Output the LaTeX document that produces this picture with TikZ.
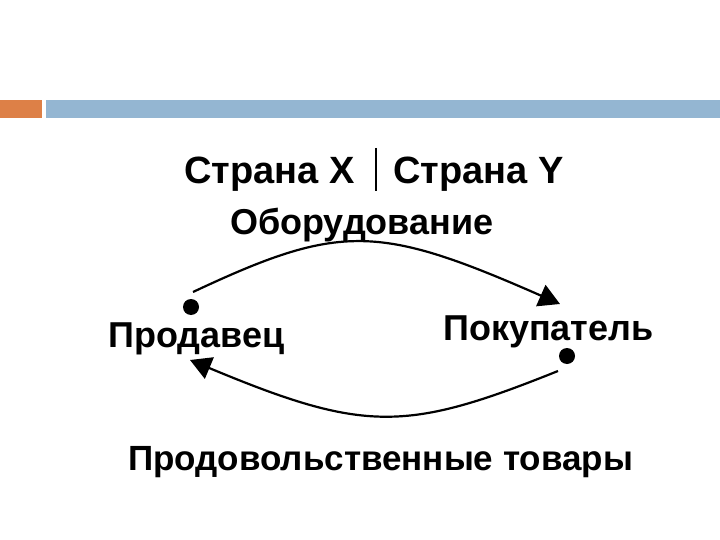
\documentclass[tikz,border=0pt]{standalone}
\usepackage{fontspec}
\setmainfont{Liberation Sans}
\usetikzlibrary{arrows.meta}
\definecolor{barorange}{HTML}{DD8047}
\definecolor{barblue}{HTML}{94B6D2}
\begin{document}
\begin{tikzpicture}[x=1pt,y=-1pt,
  lbl/.style={anchor=base west,inner sep=0pt,font=\fontsize{#1}{#1}\selectfont\bfseries},
  dotnode/.style={circle,fill=black,inner sep=0pt,minimum size=16pt},
  flow/.style={line width=2.2pt,-{Triangle[length=21pt,width=23pt]}}]
\useasboundingbox (0,0) rectangle (720,540);
\fill[white] (0,0) rectangle (720,540);
% header bars
\fill[barorange] (0,100) rectangle (42,118);
\fill[barblue] (46,100) rectangle (720,118);
% titles
\node[lbl=38] (cx) at (184,184) {Страна X};
\node[lbl=38] (cy) at (393,184) {Страна Y};
\coordinate (sepT) at (376,148);
\coordinate (sepB) at (376,191);
\draw[line width=2.6pt] (sepT) -- (sepB);
\node[lbl=36] (equip) at (230,234) {Оборудование};
\node[lbl=36] (seller) at (108,347) {Продавец};
\node[lbl=36] (buyer) at (443,340) {Покупатель};
\node[lbl=35] (food) at (128,470) {Продовольственные товары};
% dots
\node[dotnode] (d1) at (191,307) {};
\node[dotnode] (d2) at (567,356) {};
% arcs
\coordinate (a1) at (193,292);
\coordinate (a2) at (560,304);
\coordinate (b1) at (558,371);
\coordinate (b2) at (190,360);
\draw[flow] (a1) .. controls (340,223) and (378,224) .. (a2);
\draw[flow] (b1) .. controls (406,432) and (365,433) .. (b2);
\end{tikzpicture}
\end{document}
